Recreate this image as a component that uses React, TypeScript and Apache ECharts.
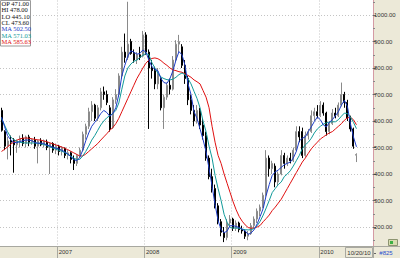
import React, { useEffect, useRef } from 'react';
import * as echarts from 'echarts';

// ---- data ----
const opens = [
  640, 560, 505, 525, 528, 510, 525, 535, 515, 540,
  520, 530, 505, 525, 510, 520, 500, 515, 490, 505,
  485, 498, 470, 480, 455, 440, 470, 490, 550, 580,
  635, 660, 610, 650, 710, 700, 650, 575, 680, 700,
  770, 860, 840, 900, 855, 830, 850, 845, 925, 860,
  800, 790, 740, 760, 650, 690, 735, 720, 830, 890,
  880, 810, 760, 680, 640, 600, 640, 585, 545, 460,
  390, 345, 280, 220, 180, 160, 215, 230, 195, 215,
  190, 185, 165, 175, 205, 230, 260, 275, 320, 460,
  420, 430, 370, 400, 470, 440, 460, 450, 490, 560,
  560, 470, 545, 560, 620, 635, 620, 660, 630, 560,
  590, 630, 620, 660, 700, 670, 610, 570, 471,
];
const closes = [
  565, 505, 525, 520, 510, 525, 535, 515, 540, 520,
  530, 505, 525, 510, 525, 500, 515, 490, 505, 485,
  498, 470, 480, 455, 440, 470, 490, 550, 580, 635,
  660, 610, 650, 710, 700, 670, 570, 680, 700, 770,
  860, 840, 890, 855, 830, 850, 840, 925, 860, 800,
  790, 740, 780, 650, 690, 735, 720, 830, 890, 900,
  810, 760, 680, 640, 600, 640, 585, 545, 460, 390,
  345, 280, 220, 180, 160, 215, 230, 195, 215, 190,
  185, 165, 175, 205, 230, 260, 275, 320, 460, 420,
  440, 370, 400, 470, 440, 460, 450, 490, 560, 540,
  470, 545, 560, 620, 635, 620, 660, 630, 560, 590,
  630, 620, 660, 700, 670, 610, 570, 505, 473.6,
];
const highs = [
  650, 565, 540, 545, 535, 530, 545, 550, 545, 548,
  535, 540, 530, 535, 530, 530, 520, 520, 515, 510,
  505, 500, 490, 485, 470, 475, 500, 560, 590, 650,
  675, 665, 660, 725, 730, 715, 660, 690, 720, 780,
  880, 930, 1050, 910, 870, 860, 880, 940, 935, 870,
  830, 805, 800, 770, 700, 745, 760, 845, 905, 925,
  890, 830, 770, 700, 660, 660, 650, 610, 560, 470,
  420, 360, 290, 230, 200, 230, 245, 235, 225, 220,
  205, 190, 185, 215, 240, 270, 285, 330, 490, 470,
  450, 440, 410, 490, 480, 470, 480, 500, 580, 580,
  575, 560, 570, 640, 650, 660, 675, 670, 635, 600,
  645, 650, 670, 745, 710, 680, 620, 575, 478,
];
const lows = [
  560, 490, 455, 470, 405, 480, 500, 505, 500, 505,
  510, 495, 440, 505, 500, 490, 400, 480, 475, 470,
  470, 460, 455, 440, 415, 430, 460, 485, 530, 570,
  600, 600, 600, 640, 680, 660, 560, 570, 665, 690,
  760, 820, 830, 850, 820, 815, 830, 840, 850, 570,
  760, 720, 720, 640, 570, 680, 700, 715, 825, 860,
  800, 740, 660, 625, 580, 590, 570, 530, 450, 380,
  330, 270, 210, 165, 143, 150, 200, 185, 185, 180,
  175, 155, 150, 170, 195, 215, 240, 270, 315, 390,
  400, 350, 355, 395, 420, 430, 440, 445, 485, 520,
  460, 465, 530, 555, 600, 610, 615, 620, 545, 550,
  585, 610, 615, 655, 650, 600, 560, 495, 445.1,
];
const maShort = [
  615, 580, 545, 530, 520, 518, 522, 525, 528, 528,
  526, 520, 516, 517, 515, 510, 506, 502, 498, 495,
  490, 484, 476, 466, 455, 450, 462, 490, 525, 555,
  580, 595, 610, 628, 640, 632, 618, 628, 650, 700,
  770, 810, 845, 865, 860, 852, 855, 868, 860, 830,
  805, 795, 790, 760, 745, 742, 760, 790, 830, 862,
  850, 810, 740, 700, 635, 610, 570, 530, 485, 420,
  355, 285, 225, 190, 178, 185, 205, 205, 202, 198,
  192, 185, 172, 178, 190, 212, 240, 270, 320, 360,
  395, 408, 415, 425, 435, 440, 445, 460, 485, 525,
  535, 540, 560, 578, 598, 615, 605, 585, 578, 595,
  605, 620, 635, 660, 678, 655, 590, 540, 502.5,
];
const maMid = [
  610, 585, 560, 540, 530, 524, 520, 518, 517, 517,
  517, 517, 516, 514, 511, 508, 503, 498, 494, 490,
  486, 481, 475, 468, 460, 455, 455, 468, 485, 505,
  528, 545, 565, 585, 600, 612, 620, 628, 640, 668,
  720, 770, 800, 815, 825, 830, 840, 848, 855, 850,
  820, 800, 780, 766, 760, 756, 755, 758, 765, 775,
  781, 775, 760, 740, 712, 685, 650, 600, 560, 505,
  460, 395, 345, 300, 248, 218, 198, 196, 196, 195,
  192, 190, 189, 190, 194, 205, 222, 245, 272, 300,
  330, 345, 360, 370, 390, 400, 412, 430, 450, 470,
  495, 510, 520, 535, 555, 570, 580, 588, 593, 596,
  597, 597, 605, 618, 630, 628, 615, 595, 571.03,
];
const maLong = [
  485, 493, 502, 512, 520, 527, 532, 535, 536, 535,
  533, 531, 529, 528, 525, 522, 518, 514, 510, 506,
  502, 497, 492, 486, 480, 474, 468, 468, 475, 485,
  495, 505, 515, 528, 540, 552, 565, 575, 590, 610,
  635, 660, 685, 710, 735, 760, 780, 800, 818, 830,
  836, 838, 835, 828, 818, 810, 800, 793, 790, 786,
  784, 778, 772, 765, 755, 748, 740, 715, 690, 650,
  580, 520, 470, 440, 400, 365, 330, 295, 265, 240,
  222, 208, 198, 195, 196, 200, 206, 220, 232, 245,
  262, 275, 290, 305, 325, 345, 365, 385, 405, 425,
  445, 460, 478, 495, 508, 520, 532, 540, 548, 555,
  560, 570, 580, 590, 603, 612, 614, 605, 585.63,
];
const yearLabels = ['2007', '2008', '2009', '2010'];
const yearStarts = [19, 48, 77, 106];
const slotCount = 124;
const lastDateLabel = '10/20/10';
const barCountLabel = '#825';
const yMin = 100;
const yMax = 1100;
const yStep = 100;

const BLUE = '#1c3cc8';
const TEAL = '#119a9a';
const RED = '#e01010';
const PANEL = '#ece9d8';

export default function App() {
  const ref = useRef<HTMLDivElement>(null);
  useEffect(() => {
    if (!ref.current) return;
    const chart = echarts.init(ref.current, null, { renderer: 'svg' });
    const cats = Array.from({ length: slotCount }, (_, i) => String(i));
    const candle = opens.map((o, i) => [o, closes[i], lows[i], highs[i]]);
    const n = opens.length - 1;
    const isYear = (i: number) => yearStarts.indexOf(i) >= 0;
    const rows = [
      { t: 'OP ' + opens[n].toFixed(2), c: '#111' },
      { t: 'HI ' + highs[n].toFixed(2), c: '#111' },
      { t: 'LO ' + lows[n].toFixed(2), c: '#111' },
      { t: 'CL ' + closes[n].toFixed(2), c: '#111' },
      { t: 'MA ' + maShort[n].toFixed(2), c: BLUE },
      { t: 'MA ' + maMid[n].toFixed(2), c: TEAL },
      { t: 'MA ' + maLong[n].toFixed(2), c: RED },
    ];
    const legendTexts = rows.map((r, k) => ({
      type: 'text',
      z: 71,
      x: 1.5,
      y: 3.3 + k * 6.4,
      style: {
        text: r.t,
        fill: r.c,
        fontSize: 6.5,
        fontFamily: 'Liberation Serif',
        verticalAlign: 'middle',
        align: 'left',
      },
    }));
    const option: any = {
      animation: false,
      backgroundColor: '#ffffff',
      textStyle: { fontFamily: 'Liberation Sans' },
      grid: {
        left: 0, right: 27, top: -11.5, bottom: 4.5,
        containLabel: false, outerBoundsMode: 'none',
      },
      xAxis: [
        {
          type: 'category',
          data: cats,
          boundaryGap: true,
          axisLine: { show: false },
          axisTick: { show: false },
          axisLabel: { show: false },
          splitLine: {
            show: true,
            interval: (i: number) => isYear(i),
            lineStyle: { color: '#c4c4c4', type: [1, 2], width: 1 },
          },
        },
        {
          type: 'category',
          data: cats,
          boundaryGap: true,
          position: 'bottom',
          offset: -7.5,
          z: 60,
          axisLine: { show: false },
          axisTick: {
            show: true,
            interval: (i: number) => isYear(i),
            length: 12,
            lineStyle: { color: '#a8a8a0' },
          },
          axisLabel: {
            show: true,
            interval: (i: number) => isYear(i),
            formatter: (_v: string, i: number) => {
              const k = yearStarts.indexOf(i);
              return k >= 0 ? yearLabels[k] : '';
            },
            align: 'left',
            margin: 2.5,
            fontSize: 6,
            color: '#333',
          },
          splitLine: { show: false },
        },
      ],
      yAxis: [
        {
          type: 'value',
          min: yMin,
          max: yMax,
          interval: yStep,
          position: 'left',
          axisLine: { show: false },
          axisTick: { show: false },
          axisLabel: { show: false },
          splitLine: { show: true, lineStyle: { color: '#c4c4c4', type: [1, 2], width: 1 } },
        },
        {
          type: 'value',
          min: yMin,
          max: yMax,
          interval: yStep,
          position: 'right',
          z: 60,
          axisLine: { show: true, lineStyle: { color: '#d49aa4', width: 1 } },
          axisTick: { show: true, length: 3, lineStyle: { color: '#666' } },
          minorTick: { show: true, splitNumber: 2, length: 2, lineStyle: { color: '#888' } },
          axisLabel: {
            show: true,
            margin: 1,
            fontSize: 6,
            color: '#333',
            showMinLabel: false,
            formatter: (v: number) => v.toFixed(2),
          },
          splitLine: { show: false },
        },
      ],
      series: [
        {
          type: 'candlestick',
          xAxisIndex: 0,
          yAxisIndex: 0,
          data: candle,
          barWidth: 1.5,
          itemStyle: {
            color: '#ffffff',
            color0: '#000000',
            borderColor: '#8a8a8a',
            borderColor0: '#000000',
            borderWidth: 1,
          },
        },
        {
          type: 'line', xAxisIndex: 0, yAxisIndex: 0, data: maLong, symbol: 'none',
          lineStyle: { color: RED, width: 1 }, z: 3,
        },
        {
          type: 'line', xAxisIndex: 0, yAxisIndex: 0, data: maMid, symbol: 'none',
          lineStyle: { color: TEAL, width: 1 }, z: 3,
        },
        {
          type: 'line', xAxisIndex: 0, yAxisIndex: 0, data: maShort, symbol: 'none',
          lineStyle: { color: BLUE, width: 1 }, z: 3,
        },
      ],
      graphic: [
        { type: 'rect', z: 50, shape: { x: 373, y: 0, width: 27, height: 247 }, style: { fill: PANEL } },
        {
          type: 'rect', z: 50, shape: { x: 0, y: 246, width: 400, height: 12 },
          style: { fill: PANEL },
        },
        {
          type: 'line', z: 51, shape: { x1: 0, y1: 246.5, x2: 400, y2: 246.5 },
          style: { stroke: '#a8a8a0', lineWidth: 1 },
        },
        {
          type: 'rect', z: 52, shape: { x: 345.5, y: 247.5, width: 27, height: 10 },
          style: { fill: PANEL, stroke: '#a8a8a0', lineWidth: 1 },
        },
        {
          type: 'text', z: 53, x: 359, y: 252.7,
          style: { text: lastDateLabel, fill: '#333', fontSize: 6, fontFamily: 'Liberation Sans', align: 'center', verticalAlign: 'middle' },
        },
        {
          type: 'text', z: 53, x: 386, y: 252.7,
          style: { text: barCountLabel, fill: '#2b4fd0', fontSize: 6, fontFamily: 'Liberation Sans', align: 'center', verticalAlign: 'middle' },
        },
        {
          type: 'rect', z: 52, shape: { x: 388.5, y: 239.5, width: 9, height: 6 },
          style: { fill: '#d6dcb0', stroke: '#8c9470', lineWidth: 1 },
        },
        {
          type: 'rect', z: 53, shape: { x: 390, y: 241, width: 3, height: 3 },
          style: { fill: '#3cb043' },
        },
        {
          type: 'rect', z: 70, shape: { x: 0.5, y: 0.5, width: 30, height: 45.5 },
          style: { fill: '#ffffff', stroke: '#9a9a9a', lineWidth: 1 },
        },
        ...legendTexts,
      ],
    };
    chart.setOption(option);
    return () => chart.dispose();
  }, []);
  return (
    <div
      ref={ref}
      style={{ position: 'absolute', left: 0, top: 0, width: 400, height: 258 }}
    />
  );
}
